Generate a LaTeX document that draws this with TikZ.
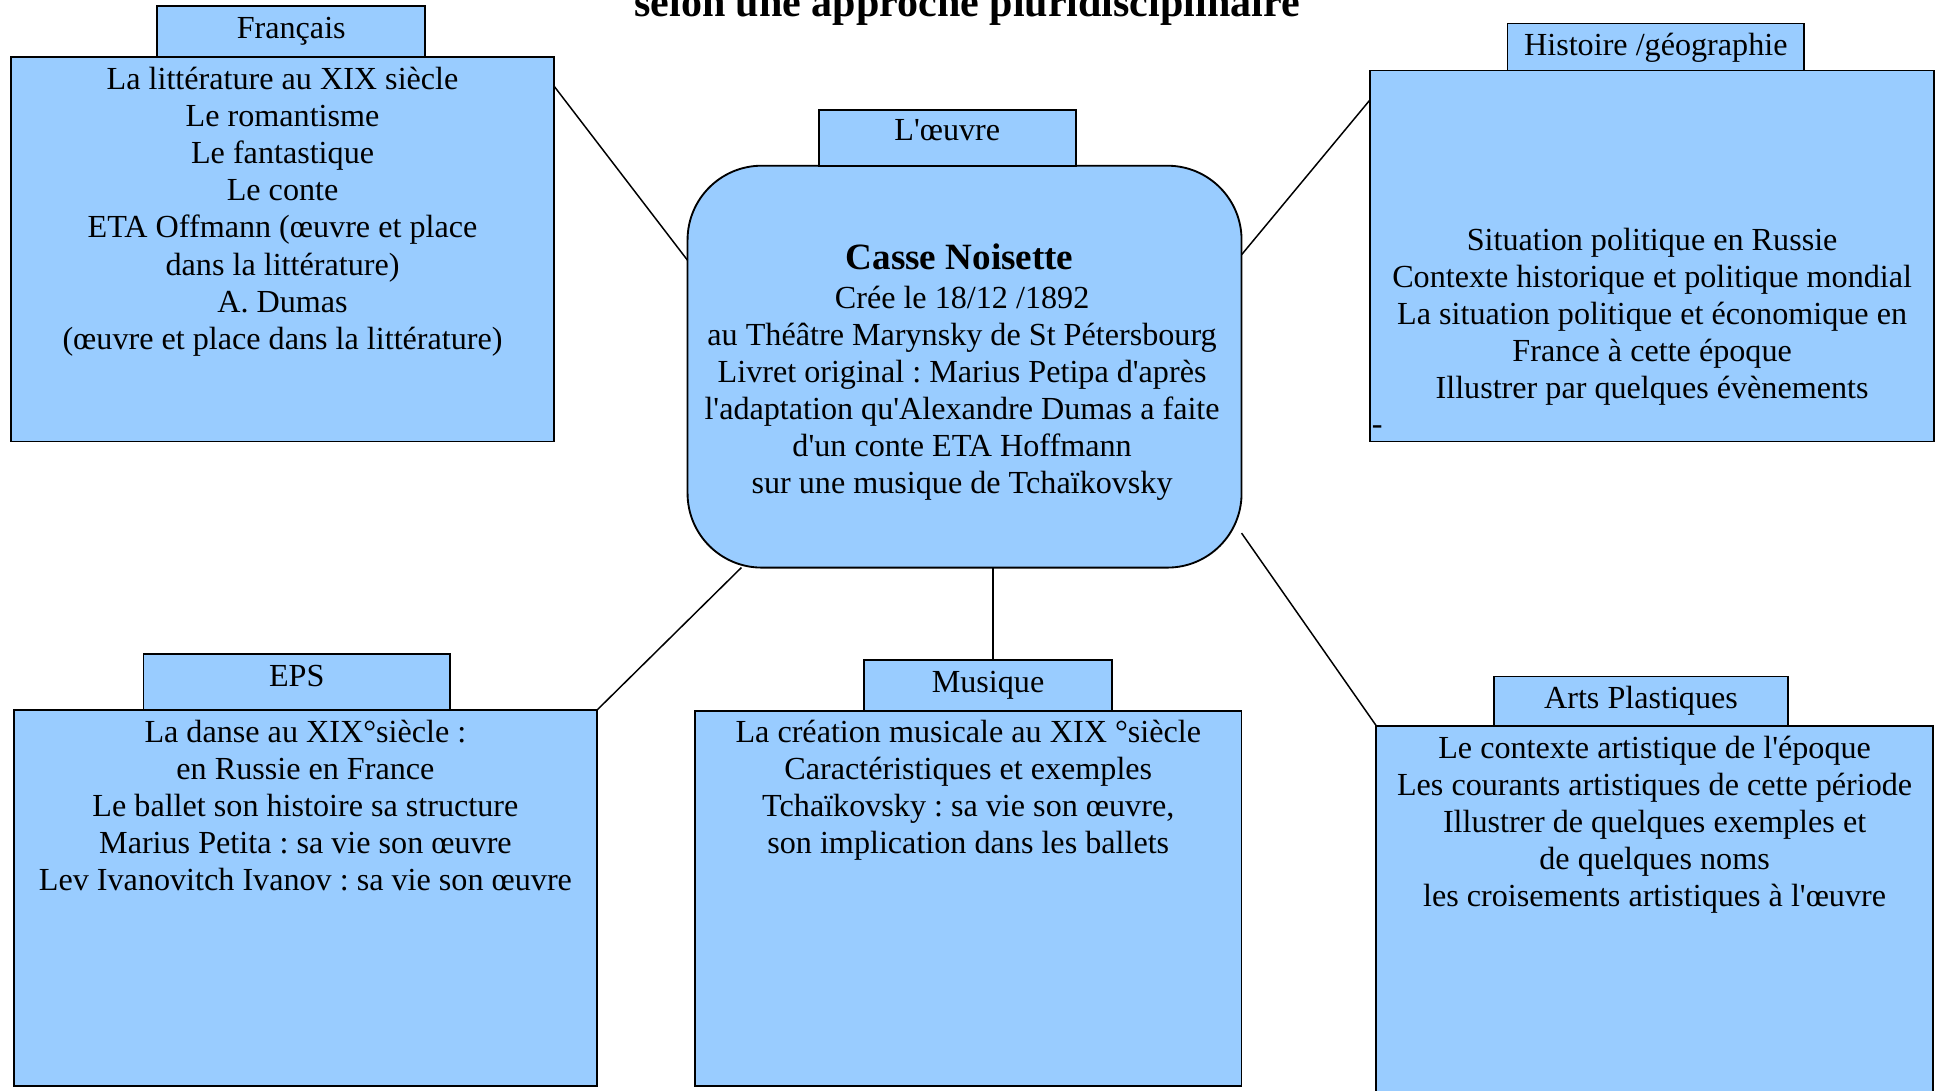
\documentclass[tikz,border=0pt]{standalone}
\usepackage{fontspec}
\setmainfont{Liberation Serif}[Ligatures=TeXOff]
\usetikzlibrary{fit}
\definecolor{boxblue}{HTML}{99CCFF}
\frenchspacing
\begin{document}
\begin{tikzpicture}[x=0.5pt,y=-0.5pt,
  mainbox/.style={draw=black, fill=boxblue, line width=0.75pt, inner sep=0pt, outer sep=0pt},
  labbox/.style={draw=black, fill=boxblue, line width=0.75pt, inner sep=0pt, outer sep=0pt},
  labtxt/.style={anchor=base, inner sep=0pt, font=\fontsize{13}{15}\selectfont},
  bodytxt/.style={anchor=north, align=center, inner sep=0pt, font=\fontsize{13}{15}\selectfont\frenchspacing},
  link/.style={draw=black, line width=0.6pt}]
\useasboundingbox (0,0) rectangle (1568,882);

% title
\node[anchor=base, inner sep=0pt, font=\fontsize{17}{20}\selectfont\bfseries] (title) at (782,13) {selon une approche pluridisciplinaire};

% Francais
\node[mainbox, fit={(9,46) (448,357)}] (frmain) {};
\node[labbox, fit={(127,5) (344,46)}] (frlab) {};
\node[labtxt] (frlabt) at (235.5,31) {Français};
\node[bodytxt] (frtxt) at (228.5,51) {\strut La littérature au XIX siècle\\Le romantisme\\Le fantastique\\Le conte\\ETA Offmann (œuvre et place\\dans la littérature)\\A. Dumas\\(œuvre et place dans la littérature)};

% Histoire
\node[mainbox, fit={(1108,57) (1564,357)}] (himain) {};
\node[labbox, fit={(1219,19) (1459,57)}] (hilab) {};
\node[labtxt] (hilabt) at (1339,45) {Histoire /géographie};
\node[bodytxt] (hitxt) at (1336,181) {\strut Situation politique en Russie\\Contexte historique et politique mondial\\La situation politique et économique en\\France à cette époque\\Illustrer par quelques évènements};
\node[anchor=base west, inner sep=0pt, font=\fontsize{13}{15}\selectfont] (hidash) at (1109,351) {-};

% centre
\node[mainbox, rounded corners=30pt, fit={(556,134) (1004,459)}] (center) {};
\node[labbox, fit={(662,89) (870,134)}] (oelab) {};
\node[labtxt] (oelabt) at (766,114) {L'œuvre};
\node[anchor=base, inner sep=0pt, font=\fontsize{15}{17}\selectfont\bfseries] (cntitle) at (776,218) {Casse Noisette};
\node[bodytxt] (cntxt) at (778,228) {\strut Crée le 18/12 /1892\\au Théâtre Marynsky de St Pétersbourg\\Livret original : Marius Petipa d'après\\l'adaptation qu'Alexandre Dumas a faite\\d'un conte ETA Hoffmann\\sur une musique de Tchaïkovsky};

% EPS
\node[mainbox, fit={(11,574) (483,878)}] (epsmain) {};
\node[labbox, fit={(116,529) (364,574)}] (epslab) {};
\node[labtxt] (epslabt) at (240,555) {EPS};
\node[bodytxt] (epstxt) at (247,579) {\strut La danse au XIX°siècle :\\en Russie en France\\Le ballet son histoire sa structure\\Marius Petita : sa vie son œuvre\\Lev Ivanovitch Ivanov : sa vie son œuvre};

% Musique
\node[mainbox, fit={(562,575) (1004,878)}] (mumain) {};
\node[labbox, fit={(699,534) (899,575)}] (mulab) {};
\node[labtxt] (mulabt) at (799,560) {Musique};
\node[bodytxt] (mutxt) at (783,579) {\strut La création musicale au XIX °siècle\\Caractéristiques et exemples\\Tchaïkovsky : sa vie son œuvre,\\son implication dans les ballets};

% Arts plastiques
\node[mainbox, fit={(1113,587) (1563,892)}] (apmain) {};
\node[labbox, fit={(1208,547) (1446,587)}] (aplab) {};
\node[labtxt] (aplabt) at (1327,573) {Arts Plastiques};
\node[bodytxt] (aptxt) at (1338,592) {\strut Le contexte artistique de l'époque\\Les courants artistiques de cette période\\Illustrer de quelques exemples et\\de quelques noms\\les croisements artistiques à l'œuvre};

% connectors
\draw[link] (frmain.31) -- (center.159);
\draw[link] (himain.151) -- (center.22);
\draw[link] (epsmain.north east) -- (center.222);
\draw[link] (center.278) -- (center.278 |- mulab.north);
\draw[link] (apmain.north west) -- (center.329);
\end{tikzpicture}
\end{document}
